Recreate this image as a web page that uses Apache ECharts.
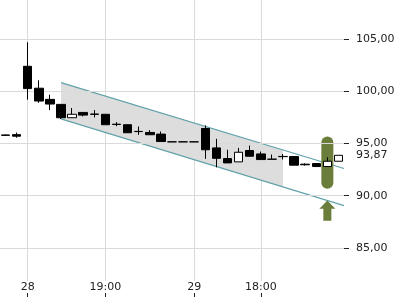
<!DOCTYPE html>
<html><head><meta charset="utf-8">
<script src="https://cdn.jsdelivr.net/npm/echarts@6/dist/echarts.min.js"></script>
<style>html,body{margin:0;padding:0;background:#fff}#c{width:400px;height:300px}</style>
</head><body><div id="c"></div>
<script>
// Category tick labels (one per candle, '' where no label)
const candleLabels = ['', '', '28', '', '', '', '', '', '', '19:00', '', '', '', '', '', '', '', '29', '', '', '', '', '', '18:00', '', '', '', '', '', '', ''];
// OHLC values: [open, close, low, high]
const opens  = [95.82, 95.85, 102.4, 100.3, 99.23, 98.75, 97.47, 97.98, 97.82, 97.8, 96.85, 96.8, 96.16, 96.06, 95.9, 95.16, 95.16, 95.16, 96.44, 94.58, 93.56, 93.24, 94.33, 94.0, 93.5, 93.76, 93.75, 93.02, 93.08, 92.79, 93.3];
const closes = [95.78, 95.7, 100.26, 99.07, 98.78, 97.47, 97.8, 97.72, 97.8, 96.8, 96.82, 96.03, 96.14, 95.84, 95.19, 95.16, 95.16, 95.16, 94.4, 93.58, 93.14, 94.16, 93.78, 93.46, 93.49, 93.74, 92.92, 92.96, 92.79, 93.3, 93.87];
const lows   = [95.75, 95.55, 99.2, 98.9, 98.2, 97.34, 97.47, 97.6, 97.5, 96.8, 96.66, 96.03, 95.83, 95.84, 95.19, 95.16, 95.16, 95.16, 93.53, 92.72, 93.14, 93.24, 93.78, 93.46, 93.49, 93.46, 92.92, 92.88, 92.79, 92.79, 93.3];
const highs  = [95.85, 96.05, 104.7, 101.06, 99.68, 98.75, 98.4, 97.98, 98.2, 97.8, 97.05, 96.8, 96.63, 96.28, 96.15, 95.16, 95.16, 95.16, 96.73, 95.45, 94.4, 94.58, 94.8, 94.23, 93.94, 94.0, 93.75, 93.1, 93.08, 93.68, 93.87];
// Y axis range and visible tick values
const yMin = 80, yMax = 110, yStep = 5;
const yShown = [85, 90, 95, 100, 105];
// Trend channel: x positions (candle index) and values
const channelX = [5, 30.5];
const channelUpper = [100.84, 92.6];
const channelLower = [97.36, 89.04];
const fillX = [5, 25];
const fillUpper = [100.84, 94.38];
const fillLower = [97.36, 90.83];
// Signal marker
const signalIndex = 29;
const signalBand = [95.67, 90.67];
const arrowValues = [89.53, 88.75, 87.6]; // tip, head base, shaft end
const lastValue = 93.87;

const fmt = v => v.toFixed(2).replace('.', ',');
const candleCats = candleLabels.map((_, i) => 'c' + i);
const halfLabels = [];
for (let k = 0; k < candleLabels.length * 2 + 1; k++) halfLabels.push(k % 2 === 1 ? candleLabels[(k - 1) / 2] : '');
const halfCats = halfLabels.map((_, k) => 'h' + k);
const showHalf = (i) => halfLabels[i] !== '';
const FONT = 'DejaVu Sans';

const chart = echarts.init(document.getElementById('c'), null, {renderer: 'canvas'});
chart.setOption({
  animation: false,
  grid: [
    {left: 0, right: 56, top: -13, bottom: 0, outerBoundsMode: 'none', containLabel: false},
    {left: 0, right: 56, top: 0, bottom: 19, outerBoundsMode: 'none', containLabel: false},
    {left: 0, right: 56, top: 0, bottom: 3, outerBoundsMode: 'none', containLabel: false}
  ],
  xAxis: [
    {type: 'category', gridIndex: 0, data: candleCats, boundaryGap: true, show: false},
    {type: 'category', gridIndex: 1, data: halfCats, boundaryGap: false,
     axisLine: {show: false, onZero: false}, axisTick: {show: false},
     axisLabel: {interval: showHalf, formatter: (v, i) => halfLabels[i], margin: 1, color: '#222', fontSize: 11, fontFamily: FONT},
     splitLine: {show: true, interval: showHalf, lineStyle: {color: '#dadada', width: 1}}},
    {type: 'category', gridIndex: 2, data: halfCats, boundaryGap: false,
     axisLine: {show: false, onZero: false}, axisLabel: {show: false}, splitLine: {show: false},
     axisTick: {show: true, inside: true, length: 4, interval: showHalf, lineStyle: {color: '#222'}}},
    {type: 'value', gridIndex: 0, min: -0.5, max: 30.5, show: false, axisLine: {onZero: false}}
  ],
  yAxis: [
    {type: 'value', gridIndex: 0, position: 'right', min: yMin, max: yMax, interval: yStep,
     axisLine: {show: false, onZero: false},
     axisTick: {show: true, length: 5, lineStyle: {color: '#222'}},
     axisLabel: {formatter: v => (yShown.indexOf(v) >= 0 ? fmt(v) : ''), margin: 12, color: '#222', fontSize: 11, fontFamily: FONT},
     splitLine: {show: true, lineStyle: {color: '#dadada', width: 1}}},
    {type: 'value', gridIndex: 1, show: false},
    {type: 'value', gridIndex: 2, show: false}
  ],
  series: [
    {type: 'custom', xAxisIndex: 3, yAxisIndex: 0, z: 1, clip: false, data: [[0]],
     renderItem: (params, api) => {
       const pts = [];
       for (let i = 0; i < fillX.length; i++) pts.push(api.coord([fillX[i], fillUpper[i]]));
       for (let i = fillX.length - 1; i >= 0; i--) pts.push(api.coord([fillX[i], fillLower[i]]));
       return {type: 'polygon', shape: {points: pts}, style: {fill: '#dddddd'}};
     },
     markLine: {silent: true, symbol: 'none', label: {show: false}, animation: false,
       lineStyle: {color: '#dadada', width: 1, type: 'solid'},
       data: yShown.map(v => ({yAxis: v}))}},
    {type: 'line', xAxisIndex: 3, yAxisIndex: 0, z: 2, symbol: 'none', silent: true,
     data: channelX.map((x, i) => [x, channelUpper[i]]), lineStyle: {color: '#62a3ab', width: 1.2}},
    {type: 'line', xAxisIndex: 3, yAxisIndex: 0, z: 2, symbol: 'none', silent: true,
     data: channelX.map((x, i) => [x, channelLower[i]]), lineStyle: {color: '#62a3ab', width: 1.2}},
    {type: 'custom', xAxisIndex: 3, yAxisIndex: 0, z: 3, clip: false, data: [[0]],
     renderItem: (params, api) => {
       const a = api.coord([signalIndex, signalBand[0]]);
       const b = api.coord([signalIndex, signalBand[1]]);
       return {type: 'rect', shape: {x: a[0] - 6, y: a[1], width: 12, height: b[1] - a[1], r: 6}, style: {fill: '#6b7d3a'}};
     }},
    {type: 'candlestick', xAxisIndex: 0, yAxisIndex: 0, z: 5, barWidth: 9,
     data: opens.map((o, i) => [o, closes[i], lows[i], highs[i]]),
     itemStyle: {color: '#ffffff', color0: '#000000', borderColor: '#000000', borderColor0: '#000000', borderWidth: 1}},
    {type: 'custom', xAxisIndex: 3, yAxisIndex: 0, z: 4, clip: false, data: [[0]],
     renderItem: (params, api) => {
       const t = api.coord([signalIndex, arrowValues[0]]);
       const h = api.coord([signalIndex, arrowValues[1]]);
       const e = api.coord([signalIndex, arrowValues[2]]);
       const cx = t[0];
       return {type: 'polygon', shape: {points: [[cx, t[1]], [cx + 8, h[1]], [cx + 4, h[1]], [cx + 4, e[1]], [cx - 4, e[1]], [cx - 4, h[1]], [cx - 8, h[1]]]}, style: {fill: '#6b7d3a'}};
     }},
    {type: 'custom', xAxisIndex: 3, yAxisIndex: 0, z: 10, clip: false, data: [[0]],
     renderItem: (params, api) => {
       const p = api.coord([30.5, lastValue]);
       return {type: 'text', x: p[0] + 10, y: p[1], style: {text: fmt(lastValue), fill: '#222', font: '11px "DejaVu Sans"', verticalAlign: 'middle', align: 'left', backgroundColor: '#ffffff', padding: [1, 2]}};
     }}
  ]
});
</script></body></html>
